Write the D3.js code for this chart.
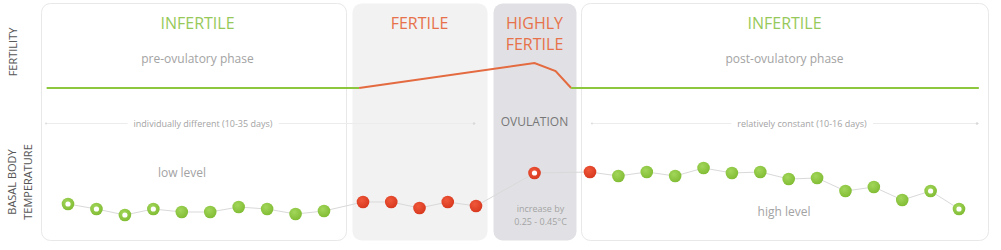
<!DOCTYPE html>
<html>
<head>
<meta charset="utf-8">
<script src="https://cdn.jsdelivr.net/npm/d3@7"></script>
<style>
  body { margin: 0; background: #fff; }
  svg { display: block; font-family: "Open Sans", "Noto Sans", sans-serif; }
</style>
</head>
<body>
<div id="chart"></div>
<script>
// 周期阶段
const phases = ['pre', 'fertile', 'ovulation', 'post'];
const phaseTitles = [['INFERTILE'], ['FERTILE'], ['HIGHLY', 'FERTILE'], ['INFERTILE']];
const phaseSubtitles = ['pre-ovulatory phase', '', '', 'post-ovulatory phase'];
const phaseDays = [[1, 10], [11, 15], [16, 16], [17, 30]];

// 基础体温 (°C)，按周期日
const days = d3.range(1, 31);
const temperature = [
  36.41, 36.36, 36.30, 36.36, 36.33, 36.33, 36.38, 36.36, 36.31, 36.34,
  36.43, 36.43, 36.37, 36.43, 36.39,
  36.72,
  36.73, 36.69, 36.73, 36.69, 36.77, 36.72, 36.73, 36.66, 36.67, 36.54, 36.58, 36.45, 36.54, 36.36
];
const hollowDays = [1, 2, 3, 4, 16, 29, 30];

// 受孕可能性曲线 (日, 等级)
const fertilityDay = [0.25, 10.9, 16, 16.38, 16.66, 30.7];
const fertilityLevel = [0, 0, 1, 0.68, 0, 0];

const width = 1001, height = 250;
const panelTop = 3, panelBottom = 240;
const panels = [
  { x0: 41, x1: 346, fill: '#ffffff', inL: 27, inR: 22 },
  { x0: 352, x1: 487, fill: '#f2f2f3', inL: 11, inR: 11 },
  { x0: 493, x1: 576, fill: '#e1e1e5', inL: 41, inR: 42 },
  { x0: 581, x1: 988, fill: '#ffffff', inL: 9, inR: 29 }
];

const green = '#8dc63f', orange = '#e46a40';
const titleGreen = '#97c95a', titleOrange = '#e7714a';
const textGrey = '#a3a3a3';

const svg = d3.select('#chart').append('svg')
  .attr('width', width)
  .attr('height', height);

const defs = svg.append('defs');
const grad = (id, c0, c1) => {
  const g = defs.append('radialGradient').attr('id', id).attr('cx', '40%').attr('cy', '35%').attr('r', '65%');
  g.append('stop').attr('offset', '0%').attr('stop-color', c0);
  g.append('stop').attr('offset', '100%').attr('stop-color', c1);
};
grad('gGreen', '#a2d65a', '#82bd35');
grad('gRed', '#f0583a', '#d8391f');

// 面板
svg.selectAll('.panel')
  .data(panels)
  .enter()
  .append('rect')
  .attr('class', 'panel')
  .attr('x', d => d.x0 + 0.5)
  .attr('y', panelTop + 0.5)
  .attr('width', d => d.x1 - d.x0)
  .attr('height', panelBottom - panelTop)
  .attr('rx', 9)
  .attr('fill', d => d.fill)
  .attr('stroke', d => d.fill === '#ffffff' ? '#e8e8e8' : 'none');

// X比例尺：分段线性，每个阶段对应其面板
const xDomain = [], xRange = [];
phaseDays.forEach((pd, i) => {
  const p = panels[i];
  if (pd[0] === pd[1]) {
    xDomain.push(pd[0]);
    xRange.push((p.x0 + p.x1) / 2);
  } else {
    xDomain.push(pd[0], pd[1]);
    xRange.push(p.x0 + p.inL, p.x1 - p.inR);
  }
});
const xFirst = d3.scaleLinear().domain([xDomain[0], xDomain[1]]).range([xRange[0], xRange[1]]);
const xLast = d3.scaleLinear().domain(xDomain.slice(-2)).range(xRange.slice(-2));
const x = d3.scaleLinear().domain(xDomain).range(xRange);
const xExt = d => d < xDomain[0] ? xFirst(d) : d > xDomain[xDomain.length - 1] ? xLast(d) : x(d);

const yTemp = d3.scaleLinear().domain([36.3, 36.8]).range([215, 165]);
const yFert = d3.scaleLinear().domain([0, 1]).range([88, 63]);

// 标题
panels.forEach((p, i) => {
  const cx = (p.x0 + p.x1) / 2 + (i === 0 ? 4 : 0);
  const color = (i === 0 || i === 3) ? titleGreen : titleOrange;
  phaseTitles[i].forEach((t, k) => {
    svg.append('text')
      .attr('x', cx)
      .attr('y', 29 + k * 21)
      .attr('text-anchor', 'middle')
      .attr('fill', color)
      .style('font-size', '16px')
      .text(t);
  });
  if (phaseSubtitles[i]) {
    svg.append('text')
      .attr('x', cx)
      .attr('y', 63)
      .attr('text-anchor', 'middle')
      .attr('fill', textGrey)
      .style('font-size', '12px')
      .text(phaseSubtitles[i]);
  }
});

// 左侧轴标签
const axisLabel = (lines, cy, x0) => {
  lines.forEach((t, k) => {
    svg.append('text')
      .attr('transform', `translate(${x0 + k * 16}, ${cy}) rotate(-90)`)
      .attr('text-anchor', 'middle')
      .attr('fill', '#555')
      .style('font-size', '11px')
      .text(t);
  });
};
axisLabel(['FERTILITY'], 52, 17);
axisLabel(['BASAL BODY', 'TEMPERATURE'], 182, 16);

// 时长说明
const spans = [
  { x0: 45, x1: 476, label: 'individually different (10-35 days)', cx: 203 },
  { x0: 591, x1: 979, label: 'relatively constant (10-16 days)', cx: 802 }
];
spans.forEach(s => {
  svg.append('line')
    .attr('x1', s.x0).attr('x2', s.x1)
    .attr('y1', 123.5).attr('y2', 123.5)
    .attr('stroke', '#ececec');
  svg.append('circle').attr('cx', s.x1 - 2).attr('cy', 123.5).attr('r', 1.2).attr('fill', '#d8d8d8');
  svg.append('circle').attr('cx', s.x0 + 1).attr('cy', 123.5).attr('r', 1).attr('fill', '#dcdcdc');
  const t = svg.append('text')
    .attr('x', s.cx)
    .attr('y', 126.5)
    .attr('text-anchor', 'middle')
    .attr('fill', textGrey)
    .style('font-size', '9px')
    .text(s.label);
  const bb = t.node().getBBox();
  svg.insert('rect', () => t.node())
    .attr('x', bb.x - 6).attr('y', bb.y).attr('width', bb.width + 12).attr('height', bb.height)
    .attr('fill', '#fff');
});

svg.append('text')
  .attr('x', x(16)).attr('y', 126)
  .attr('text-anchor', 'middle')
  .attr('fill', '#777')
  .style('font-size', '12px')
  .text('OVULATION');

svg.append('text')
  .attr('x', 182).attr('y', 177)
  .attr('text-anchor', 'middle')
  .attr('fill', textGrey)
  .style('font-size', '12px')
  .text('low level');

svg.append('text')
  .attr('x', 784).attr('y', 216)
  .attr('text-anchor', 'middle')
  .attr('fill', textGrey)
  .style('font-size', '12px')
  .text('high level');

['increase by', '0.25 - 0.45°C'].forEach((t, k) => {
  svg.append('text')
    .attr('x', x(16) + 6).attr('y', 212 + k * 13)
    .attr('text-anchor', 'middle')
    .attr('fill', textGrey)
    .style('font-size', '9px')
    .text(t);
});

// 受孕可能性曲线
const fert = fertilityDay.map((d, i) => ({ day: d, level: fertilityLevel[i] }));
const fLine = d3.line().x(d => xExt(d.day)).y(d => yFert(d.level));
svg.append('path')
  .datum(fert.slice(0, 2))
  .attr('d', fLine).attr('fill', 'none').attr('stroke', green).attr('stroke-width', 2);
svg.append('path')
  .datum(fert.slice(1, 5))
  .attr('d', fLine).attr('fill', 'none').attr('stroke', orange).attr('stroke-width', 2);
svg.append('path')
  .datum(fert.slice(4))
  .attr('d', fLine).attr('fill', 'none').attr('stroke', green).attr('stroke-width', 2);

// 体温曲线
const temps = days.map((d, i) => ({ day: d, t: temperature[i] }));
svg.append('path')
  .datum(temps)
  .attr('d', d3.line().x(d => x(d.day)).y(d => yTemp(d.t)))
  .attr('fill', 'none')
  .attr('stroke', '#d9d9d9')
  .attr('stroke-width', 1);

const isRed = d => d.day >= phaseDays[1][0] && d.day <= phaseDays[3][0];
svg.selectAll('.dot')
  .data(temps)
  .enter()
  .append('circle')
  .attr('class', 'dot')
  .attr('cx', d => x(d.day))
  .attr('cy', d => yTemp(d.t))
  .attr('r', 6.3)
  .attr('fill', d => isRed(d) ? 'url(#gRed)' : 'url(#gGreen)');

svg.selectAll('.hole')
  .data(temps.filter(d => hollowDays.includes(d.day)))
  .enter()
  .append('circle')
  .attr('class', 'hole')
  .attr('cx', d => x(d.day))
  .attr('cy', d => yTemp(d.t))
  .attr('r', 2.6)
  .attr('fill', '#fff');
</script>
</body>
</html>
